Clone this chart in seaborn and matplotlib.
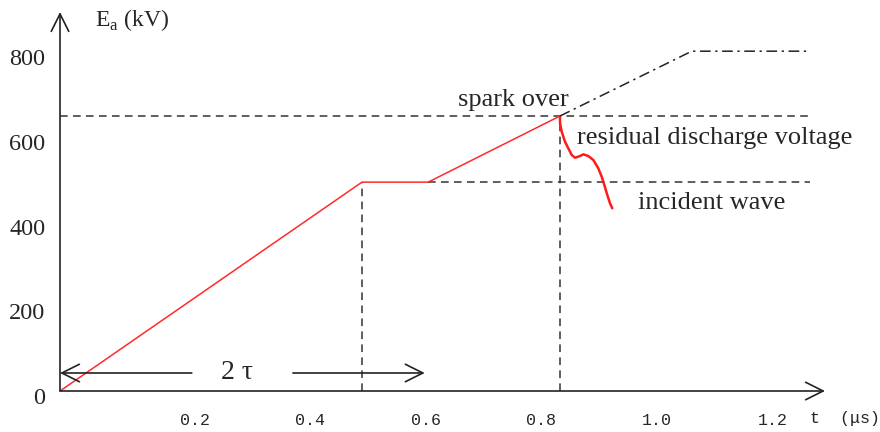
import matplotlib
matplotlib.use("Agg")
import matplotlib.pyplot as plt
import matplotlib.transforms as mtransforms
import numpy as np
import pandas as pd
import seaborn as sns

# surge waveform (t in us, Ea in kV)
wave_t = [0.0, 0.5225, 0.637, 0.865]
wave_e = [0.0, 493.0, 493.0, 649.0]

# residual discharge after spark over
resid_t = [0.865, 0.8651, 0.868, 0.8737, 0.8794, 0.8853, 0.891, 0.8997,
           0.9054, 0.914, 0.9227, 0.9313, 0.9372, 0.9417, 0.9469, 0.9516, 0.9555]
resid_e = [649.0, 631.8, 612.0, 588.4, 572.8, 557.0, 550.6, 554.6,
           558.6, 554.6, 545.2, 525.6, 505.8, 486.2, 462.6, 443.0, 431.2]

# incident wave if no spark over happened
incid_t = [0.865, 1.093, 1.294]
incid_e = [649.0, 802.0, 802.0]

spark_level = 649.0
flat_level = 493.0
flat_start = 0.5225
spark_t = 0.865
line_end = 1.298

x_ticks = [0.2, 0.4, 0.6, 0.8, 1.0, 1.2]
x_labels = ["0.2", "0.4", "0.6", "0.8", "1.0", "1.2"]
y_ticks = [0, 200, 400, 600, 800]
y_labels = ["0", "200", "400", "600", "800"]

sns.set_style("white")
plt.rcParams["font.family"] = ["Liberation Serif", "DejaVu Serif"]
plt.rcParams["mathtext.fontset"] = "custom"
plt.rcParams["mathtext.rm"] = "Liberation Serif"

fig = plt.figure(figsize=(8.8, 4.32), dpi=100)
ax = fig.add_axes([60 / 880, 41 / 432, 780 / 880, 381 / 432])
ax.set_xlim(0, 780 / 578)
ax.set_ylim(0, 381 / 0.4237)
for s in ax.spines.values():
    s.set_visible(False)

dash = dict(color="#333333", lw=1.1, ls=(0, (5, 3.5)))
ax.hlines(spark_level, 0, line_end, **dash)
ax.hlines(flat_level, wave_t[2], line_end, **dash)
ax.vlines(flat_start, 0, flat_level, **dash)
ax.vlines(spark_t, 0, spark_level, **dash)

sns.lineplot(x=wave_t, y=wave_e, sort=False, color="#ff2a2a", lw=1.1, ax=ax)
sns.lineplot(x=resid_t, y=resid_e, sort=False, color="#ff1a1a", lw=1.8, ax=ax)
sns.lineplot(x=incid_t, y=incid_e, sort=False, color="#222222", lw=1.1,
             ax=ax).lines[-1].set_dashes([7, 3, 1.5, 3])

# axes drawn as arrows
arr = dict(arrowstyle="->,head_length=0.9,head_width=0.45", color="#222222",
           lw=1.2, shrinkA=0, shrinkB=0, mutation_scale=14)
ax.annotate("", xy=(765 / 578, 0), xytext=(0, 0), arrowprops=arr,
            annotation_clip=False)
ax.annotate("", xy=(0, 379 / 0.4237), xytext=(0, 0), arrowprops=arr,
            annotation_clip=False)

# 2 tau span
tau_y = 42.5
ax.annotate("", xy=(0, tau_y), xytext=(0.228, tau_y), arrowprops=arr)
ax.annotate("", xy=(0.631, tau_y), xytext=(0.403, tau_y), arrowprops=arr)
ax.text(0.307, tau_y, "2 τ", ha="center", va="center", fontsize=20)

ax.set_xticks(x_ticks)
ax.set_xticklabels(x_labels, fontfamily="Liberation Mono", fontsize=12)
ax.set_yticks(y_ticks)
ax.set_yticklabels(y_labels, fontsize=17.5)
ax.tick_params(axis="x", length=0, pad=16)
ax.tick_params(axis="y", length=0, pad=10.5)
shift_x = mtransforms.ScaledTranslation(19 / 100, 0, fig.dpi_scale_trans)
for lab in ax.get_xticklabels():
    lab.set_transform(lab.get_transform() + shift_x)
shift_y = mtransforms.ScaledTranslation(0, -5 / 100, fig.dpi_scale_trans)
for lab in ax.get_yticklabels():
    lab.set_transform(lab.get_transform() + shift_y)

ax.text((95 - 60) / 578, (391 - 20) / 0.4237, "E$_\\mathrm{a}$ (kV)",
        fontsize=17, va="center", ha="left")
ax.text((458 - 60) / 578, (391 - 100) / 0.4237, "spark over", fontsize=19,
        va="center", ha="left")
ax.text((577 - 60) / 578, (391 - 138) / 0.4237, "residual discharge voltage",
        fontsize=19, va="center", ha="left")
ax.text((638 - 60) / 578, (391 - 203) / 0.4237, "incident wave", fontsize=19,
        va="center", ha="left")
ax.text((810 - 60) / 578, (391 - 418) / 0.4237, "t  (μs)",
        fontfamily="Liberation Mono", fontsize=12, va="center", ha="left",
        clip_on=False)

fig.savefig("out.png", dpi=100)
